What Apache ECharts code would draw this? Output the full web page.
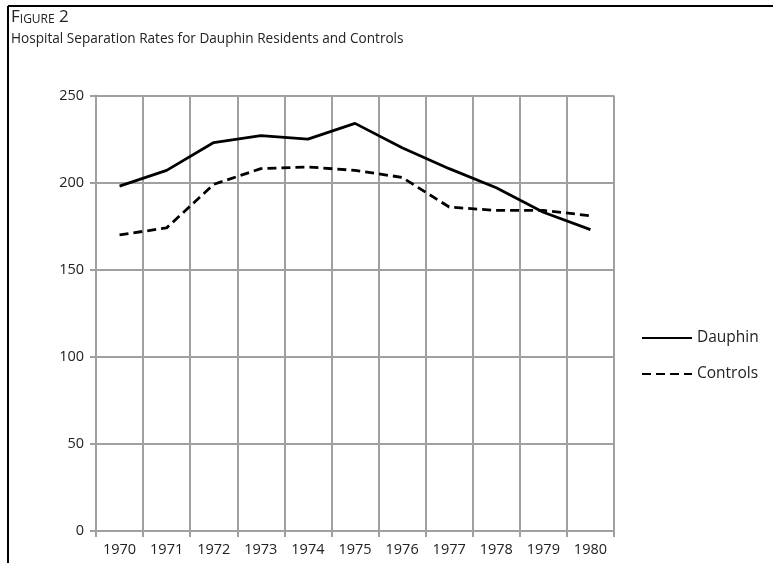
<!DOCTYPE html>
<html><head><meta charset="utf-8">
<script src="https://cdn.jsdelivr.net/npm/echarts@6/dist/echarts.min.js"></script>
<style>html,body{margin:0;padding:0;background:#fff}#c{width:773px;height:563px}</style>
</head><body><div id="c"></div>
<script>
const years = ['1970','1971','1972','1973','1974','1975','1976','1977','1978','1979','1980'];
const dauphin = [198, 207, 223, 227, 225, 234, 220, 208, 197, 183, 173];
const controls = [170, 174, 199, 208, 209, 207, 203, 186, 184, 184, 181];
const yTicks = [0, 50, 100, 150, 200, 250];

const chart = echarts.init(document.getElementById('c'), null, {renderer: 'canvas'});
const font = '"Open Sans", "Noto Sans", sans-serif';
chart.setOption({
  animation: false,
  backgroundColor: '#fff',
  textStyle: {fontFamily: font},
  graphic: [
    {type: 'line', shape: {x1: 8, y1: 6, x2: 773, y2: 6}, style: {stroke: '#000', lineWidth: 2}},
    {type: 'line', shape: {x1: 8, y1: 6, x2: 8, y2: 563}, style: {stroke: '#000', lineWidth: 2}},
    {type: 'text', left: 11, top: 9, style: {
      text: '{a|F}{b|IGURE}{a| 2}',
      rich: {
        a: {fontSize: 17, fontFamily: font, fill: '#222', verticalAlign: 'bottom'},
        b: {fontSize: 12, fontFamily: font, fill: '#222', verticalAlign: 'bottom'}
      }
    }},
    {type: 'text', left: 11, top: 32, style: {
      text: 'Hospital Separation Rates for Dauphin Residents and Controls',
      fontSize: 13.6, fontFamily: font, fill: '#222'
    }}
  ],
  legend: {
    orient: 'vertical', left: 636, top: 325, itemWidth: 50, itemHeight: 14, itemGap: 20,
    itemStyle: {opacity: 0},
    textStyle: {fontSize: 15.5, color: '#222', fontFamily: font},
    data: ['Dauphin', 'Controls']
  },
  grid: {left: 96, right: 159, top: 95.5, bottom: 32, containLabel: false},
  xAxis: {
    type: 'category', data: years, boundaryGap: true,
    axisLine: {lineStyle: {color: '#a0a0a0', width: 2}},
    axisTick: {show: true, length: 6, lineStyle: {color: '#a0a0a0', width: 2}},
    axisLabel: {color: '#222', fontSize: 14.5, margin: 11, fontFamily: font},
    splitLine: {show: true, lineStyle: {color: '#a0a0a0', width: 2}}
  },
  yAxis: {
    type: 'value', min: 0, max: 250, interval: 50,
    axisLine: {show: true, lineStyle: {color: '#a0a0a0', width: 2}},
    axisTick: {show: true, length: 6, lineStyle: {color: '#a0a0a0', width: 2}},
    axisLabel: {color: '#222', fontSize: 14.5, margin: 12, fontFamily: font,
      formatter: v => yTicks.includes(v) ? String(v) : ''},
    splitLine: {show: true, lineStyle: {color: '#a0a0a0', width: 2}}
  },
  series: [
    {name: 'Dauphin', type: 'line', data: dauphin, symbol: 'none',
      itemStyle: {color: '#000'}, lineStyle: {color: '#000', width: 2.8}},
    {name: 'Controls', type: 'line', data: controls, symbol: 'none',
      itemStyle: {color: '#000'}, lineStyle: {color: '#000', width: 2.8, type: [9, 5]}}
  ]
});
</script></body></html>
